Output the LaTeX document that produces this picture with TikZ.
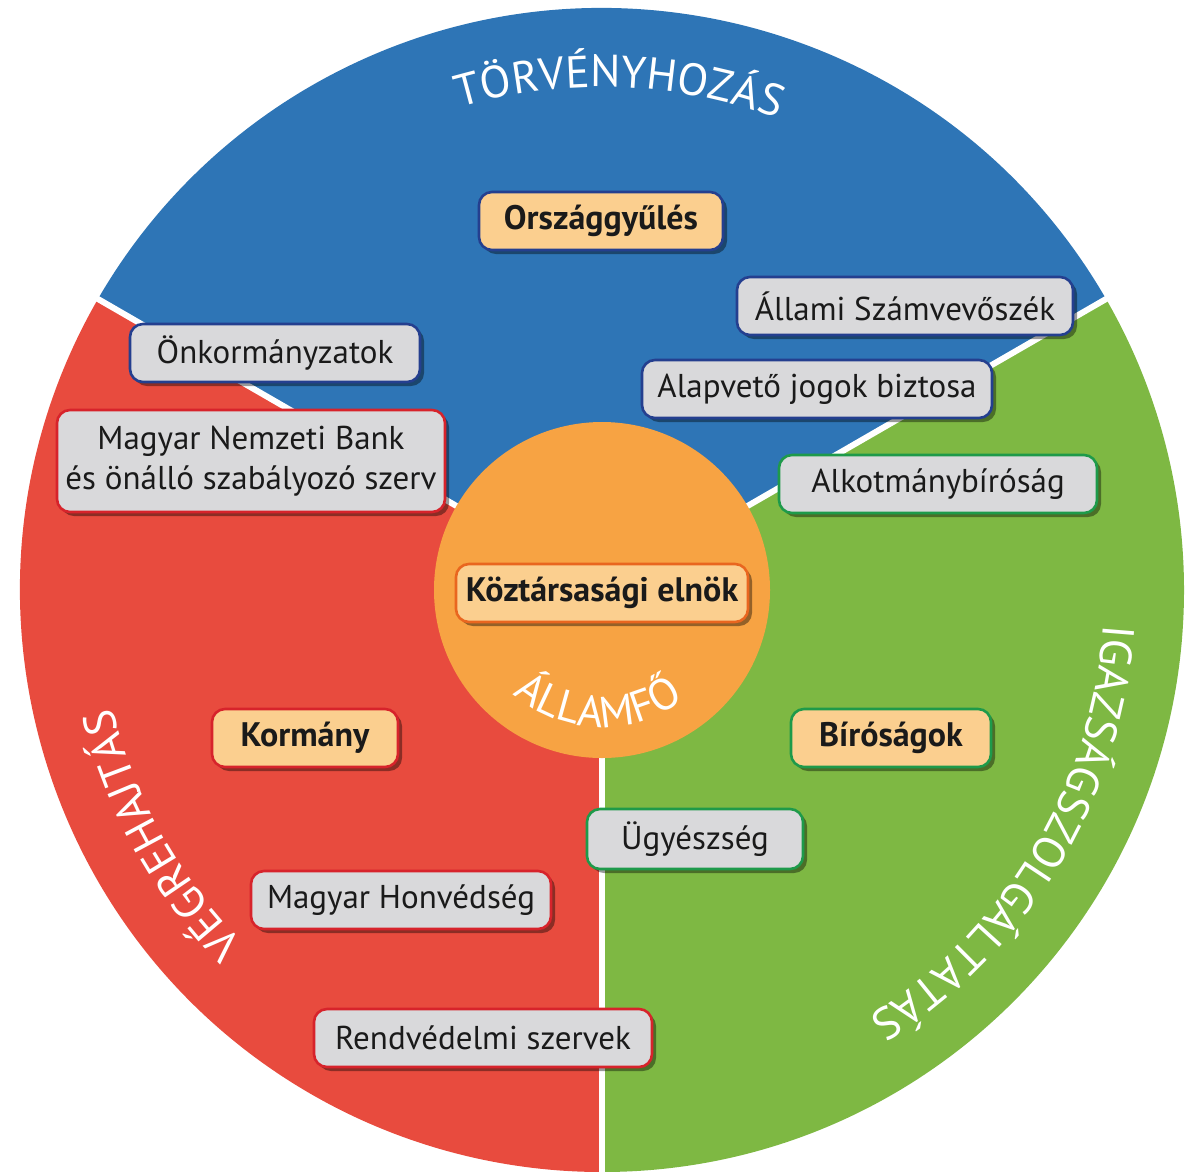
\documentclass[tikz,border=0pt]{standalone}
\usepackage{fontspec}
\setmainfont{PT Sans}
\usetikzlibrary{shadows,decorations.text}
\definecolor{secblue}{HTML}{2E75B6}
\definecolor{secred}{HTML}{E84B3E}
\definecolor{secgreen}{HTML}{7EB843}
\definecolor{circorange}{HTML}{F7A343}
\definecolor{boxgray}{HTML}{D9D9DB}
\definecolor{boxorange}{HTML}{FBCF8F}
\definecolor{bdblue}{HTML}{243F8F}
\definecolor{bdred}{HTML}{D7232B}
\definecolor{bdgreen}{HTML}{1E9A4A}
\definecolor{bdorange}{HTML}{E9661F}
\definecolor{txt}{HTML}{1A1A1A}
\newcommand{\boxfont}{\fontsize{33}{40}\selectfont}
\newcommand{\boxbold}{\fontsize{34}{40}\selectfont\bfseries}
\newcommand{\outerfont}{\fontsize{45}{50}\selectfont}
\newcommand{\innerfont}{\fontsize{44}{48}\selectfont}
\begin{document}
\begin{tikzpicture}[x=1pt,y=1pt,
  box/.style={draw, rounded corners=13pt, line width=2.6pt, minimum height=58pt,
    inner sep=0pt, text=txt, align=center,
    drop shadow={shadow xshift=4pt, shadow yshift=-4pt, opacity=0.4, fill=black}},
  gbox/.style={box, fill=boxgray, font=\boxfont},
  obox/.style={box, fill=boxorange, font=\boxbold},
  divider/.style={white, line width=6pt},
  arclabel/.style={decorate, decoration={text along path, text align=center, text color=white}}]
\useasboundingbox (0,0) rectangle (1190,-1171);
\coordinate (C) at (602,-590);
\begin{scope}
\clip (0,0) rectangle (1190,-1171);
\fill[secblue] (C) -- ++(30:582) arc (30:150:582) -- cycle;
\fill[secred] (C) -- ++(150:582) arc (150:270:582) -- cycle;
\fill[secgreen] (C) -- ++(270:582) arc (270:390:582) -- cycle;
\draw[divider] (C) -- ++(30:590);
\draw[divider] (C) -- ++(150:590);
\draw[divider] (C) -- ++(270:600);
\end{scope}
\node[circle, fill=circorange, minimum size=336pt, inner sep=0pt] (hf) at (C) {};
% curved labels
\path[arclabel, decoration={text={|\outerfont|TÖRVÉNYHOZÁS}}]
  ([shift={(C)}]130:503) arc (130:46:503);
\path[arclabel, decoration={text={|\outerfont|VÉGREHAJTÁS}}]
  ([shift={(C)}]250:503) arc (250:168:503);
\path[arclabel, decoration={text={|\outerfont|IGAZSÁGSZOLGÁLTATÁS}}]
  ([shift={(C)}]21:503) arc (21:-83:503);
\path[arclabel, decoration={text={|\innerfont|ÁLLAMFŐ}}]
  ([shift={(C)}]200:137) arc (200:336:137);
% boxes
\node[obox, draw=bdblue, minimum width=244pt] (ogy) at (601,-221) {Országgyűlés};
\node[gbox, draw=bdblue, minimum width=336pt] (asz) at (905,-306) {Állami Számvevőszék};
\node[gbox, draw=bdblue, minimum width=350pt] (ajb) at (817,-389) {Alapvető jogok biztosa};
\node[gbox, draw=bdgreen, minimum width=318pt] (ab) at (938,-484) {Alkotmánybíróság};
\node[gbox, draw=bdblue, minimum width=290pt] (onk) at (275,-353) {Önkormányzatok};
\node[gbox, draw=bdred, minimum width=388pt, minimum height=102pt] (mnb) at (251,-461) {Magyar Nemzeti Bank\\és önálló szabályozó szerv};
\node[obox, draw=bdorange, minimum width=292pt] (ke) at (602,-593) {Köztársasági elnök};
\node[obox, draw=bdred, minimum width=186pt] (korm) at (305,-738) {Kormány};
\node[gbox, draw=bdred, minimum width=300pt] (mh) at (401,-900) {Magyar Honvédség};
\node[gbox, draw=bdred, minimum width=338pt] (rsz) at (483,-1038) {Rendvédelmi szervek};
\node[obox, draw=bdgreen, minimum width=200pt] (bir) at (891,-738) {Bíróságok};
\node[gbox, draw=bdgreen, minimum width=216pt, minimum height=60pt] (ugy) at (695,-839) {Ügyészség};
\end{tikzpicture}
\end{document}
